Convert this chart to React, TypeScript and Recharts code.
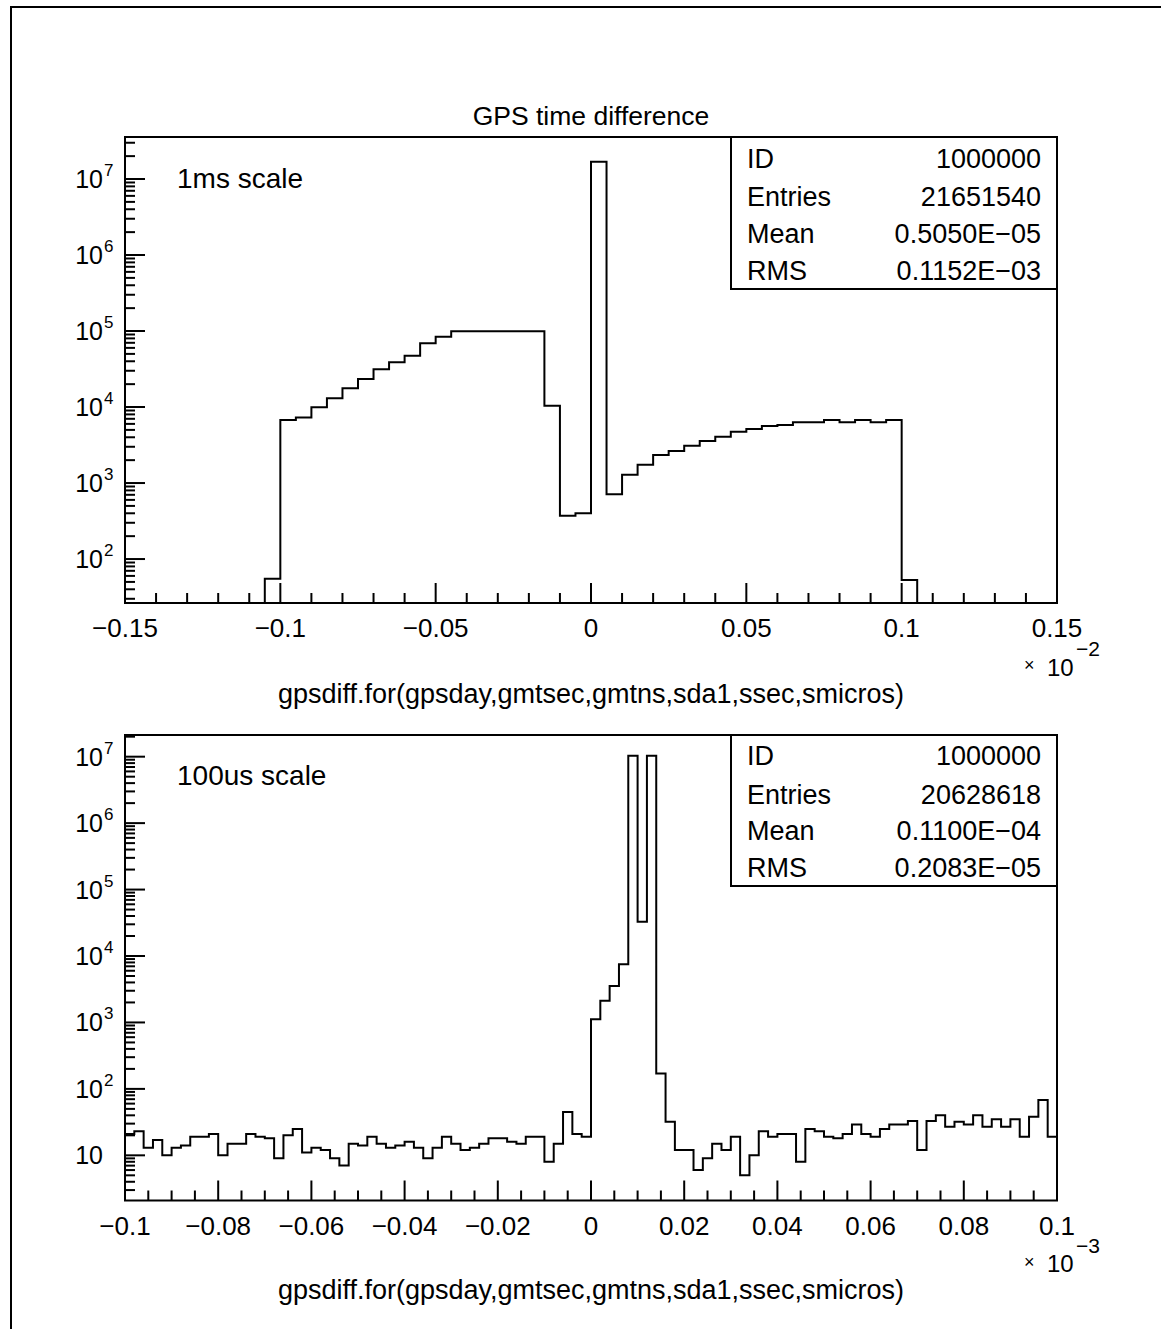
import React from "react";
import { LineChart, Line, XAxis, YAxis, ReferenceArea } from "recharts";

const FONT = "'Liberation Sans', Arimo, Arial, Helvetica, sans-serif";
const INK = "#000000";

// ---------- Top histogram: "1ms scale" (x in units of 1e-2) ----------
const topBinStart = -0.105;
const topBinWidth = 0.005;
const topCounts = [
  55,
  6740, 7300, 9900, 13000, 17600, 23300, 31300, 38700, 47300, 68900, 84100,
  99100, 99100, 99100, 99100, 99100, 99100,
  10400, 372, 399,
  16900000,
  710, 1285, 1740, 2330, 2640, 3100, 3570, 4070, 4730, 5140, 5630, 5800, 6290, 6290, 6750, 6290, 6750, 6290, 6750,
  53,
];
const topXDomain: [number, number] = [-0.15, 0.15];
const topYDomain: [number, number] = [26.4, 3.57e7];
const topXMajors = [-0.15, -0.1, -0.05, 0, 0.05, 0.1, 0.15];
const topXLabels = ["\u22120.15", "\u22120.1", "\u22120.05", "0", "0.05", "0.1", "0.15"];
const topXMinorStep = 0.01;
const topYDecades = [2, 3, 4, 5, 6, 7];
const topStats = [
  ["ID", "1000000"],
  ["Entries", "21651540"],
  ["Mean", "0.5050E\u221205"],
  ["RMS", "0.1152E\u221203"],
];

// ---------- Bottom histogram: "100us scale" (x in units of 1e-3) ----------
const botBinStart = -0.1;
const botBinWidth = 0.002;
const botCounts = [
  21, 23, 13, 17, 10, 13, 14, 19, 19, 21,
  10, 15, 15, 21, 19, 18, 9, 20, 25, 11,
  13, 12, 9, 7, 15, 14, 19, 15, 13, 14,
  16, 13, 9, 13, 19, 15, 12, 13, 15, 18,
  18, 16, 15, 19, 19, 8, 15, 45, 21, 19,
  1114, 2120, 3540, 7500, 10300000, 32900, 10300000, 171, 32, 12,
  12, 6, 9, 15, 12, 19, 5, 10, 23, 19,
  21, 21, 8, 25, 23, 19, 18, 21, 29, 21,
  19, 25, 29, 29, 33, 12, 33, 40, 27, 32,
  29, 40, 27, 35, 27, 35, 19, 38, 68, 19,
];
const botXDomain: [number, number] = [-0.1, 0.1];
const botYDomain: [number, number] = [2.09, 2.12e7];
const botXMajors = [-0.1, -0.08, -0.06, -0.04, -0.02, 0, 0.02, 0.04, 0.06, 0.08, 0.1];
const botXLabels = [
  "\u22120.1", "\u22120.08", "\u22120.06", "\u22120.04", "\u22120.02", "0",
  "0.02", "0.04", "0.06", "0.08", "0.1",
];
const botXMinorStep = 0.005;
const botYDecades = [1, 2, 3, 4, 5, 6, 7];
const botStats = [
  ["ID", "1000000"],
  ["Entries", "20628618"],
  ["Mean", "0.1100E\u221204"],
  ["RMS", "0.2083E\u221205"],
];

const axisTitle = "gpsdiff.for(gpsday,gmtsec,gmtns,sda1,ssec,smicros)";

// ---------- helpers ----------
function histPoints(start: number, width: number, counts: number[], floor: number) {
  const pts = [{ x: start, v: floor }];
  counts.forEach((c, i) => pts.push({ x: start + i * width, v: c }));
  const end = start + counts.length * width;
  pts.push({ x: end, v: counts[counts.length - 1] });
  pts.push({ x: end, v: floor });
  return pts;
}

function linearTicks(domain: [number, number], step: number) {
  const out: number[] = [];
  const n = Math.round((domain[1] - domain[0]) / step);
  for (let k = 0; k <= n; k++) out.push(domain[0] + k * step);
  return out;
}

function logTicks(domain: [number, number]) {
  const out: number[] = [];
  for (let d = -1; d <= 9; d++) {
    for (let m = 1; m <= 9; m++) {
      const v = m * Math.pow(10, d);
      if (v >= domain[0] * 0.999 && v <= domain[1] * 1.001) out.push(v);
    }
  }
  return out;
}

function XTick(props: any) {
  const { x, y, payload, majors, labels } = props;
  const idx = majors.findIndex((m: number) => Math.abs(m - payload.value) < 1e-9);
  const major = idx >= 0;
  return (
    <g>
      <line x1={x} y1={y} x2={x} y2={y - (major ? 20 : 10)} stroke={INK} strokeWidth={2} />
      {major && (
        <text x={x} y={y + 34} textAnchor="middle" fontFamily={FONT} fontSize={26} fill={INK}>
          {labels[idx]}
        </text>
      )}
    </g>
  );
}

function YTick(props: any) {
  const { x, y, payload, decades } = props;
  const lg = Math.log10(payload.value);
  const dec = decades.find((d: number) => Math.abs(d - lg) < 1e-6);
  const major = dec !== undefined;
  return (
    <g>
      <line x1={x} y1={y} x2={x + (major ? 20 : 10)} y2={y} stroke={INK} strokeWidth={2} />
      {major && (
        <text x={x - 22} y={y + 9} textAnchor="end" fontFamily={FONT} fontSize={25} fill={INK}>
          10
        </text>
      )}
      {major && dec !== 1 && (
        <text x={x - 21} y={y - 3} textAnchor="start" fontFamily={FONT} fontSize={17} fill={INK}>
          {String(dec)}
        </text>
      )}
    </g>
  );
}

type PanelProps = {
  top: number;
  height: number;
  marginTop: number;
  xAxisHeight: number;
  data: { x: number; v: number }[];
  xDomain: [number, number];
  xTicks: number[];
  xMajors: number[];
  xLabels: string[];
  yDomain: [number, number];
  yTicks: number[];
  yDecades: number[];
};

function Panel(p: PanelProps) {
  return (
    <div style={{ position: "absolute", left: 0, top: p.top }}>
      <LineChart
        width={1161}
        height={p.height}
        data={p.data}
        margin={{ top: p.marginTop, right: 104, bottom: 0, left: 0 }}
      >
        <XAxis
          dataKey="x"
          type="number"
          domain={p.xDomain}
          ticks={p.xTicks}
          interval={0}
          allowDataOverflow
          axisLine={false}
          tickLine={false}
          tickSize={0}
          tickMargin={0}
          height={p.xAxisHeight}
          tick={(tp: any) => <XTick {...tp} majors={p.xMajors} labels={p.xLabels} />}
        />
        <YAxis
          type="number"
          scale="log"
          domain={p.yDomain}
          ticks={p.yTicks}
          interval={0}
          allowDataOverflow
          axisLine={false}
          tickLine={false}
          tickSize={0}
          tickMargin={0}
          width={125}
          tick={(tp: any) => <YTick {...tp} decades={p.yDecades} />}
        />
        <ReferenceArea
          x1={p.xDomain[0]}
          x2={p.xDomain[1]}
          y1={p.yDomain[0]}
          y2={p.yDomain[1]}
          fill="none"
          fillOpacity={0}
          stroke={INK}
          strokeWidth={2}
          ifOverflow="visible"
        />
        <Line
          dataKey="v"
          type="stepAfter"
          stroke={INK}
          strokeWidth={2}
          dot={false}
          activeDot={false}
          isAnimationActive={false}
        />
      </LineChart>
    </div>
  );
}

function StatsBox({ top, bottom, rows, baselines }: { top: number; bottom: number; rows: string[][]; baselines: number[] }) {
  return (
    <g>
      <rect x={731} y={top} width={326} height={bottom - top} fill="#fff" stroke={INK} strokeWidth={2} />
      {rows.map((r, i) => (
        <g key={r[0]}>
          <text x={747} y={baselines[i]} fontFamily={FONT} fontSize={27} fill={INK}>
            {r[0]}
          </text>
          <text x={1041} y={baselines[i]} textAnchor="end" fontFamily={FONT} fontSize={27} fill={INK}>
            {r[1]}
          </text>
        </g>
      ))}
    </g>
  );
}

export default function App() {
  const topData = histPoints(topBinStart, topBinWidth, topCounts, topYDomain[0]);
  const botData = histPoints(botBinStart, botBinWidth, botCounts, botYDomain[0]);
  return (
    <div style={{ position: "absolute", left: 0, top: 0, width: 1161, height: 1329, background: "#fff", overflow: "hidden" }}>
      <Panel
        top={0}
        height={650}
        marginTop={137}
        xAxisHeight={47}
        data={topData}
        xDomain={topXDomain}
        xTicks={linearTicks(topXDomain, topXMinorStep)}
        xMajors={topXMajors}
        xLabels={topXLabels}
        yDomain={topYDomain}
        yTicks={logTicks(topYDomain)}
        yDecades={topYDecades}
      />
      <Panel
        top={650}
        height={679}
        marginTop={85}
        xAxisHeight={128.5}
        data={botData}
        xDomain={botXDomain}
        xTicks={linearTicks(botXDomain, botXMinorStep)}
        xMajors={botXMajors}
        xLabels={botXLabels}
        yDomain={botYDomain}
        yTicks={logTicks(botYDomain)}
        yDecades={botYDecades}
      />
      <svg
        width={1161}
        height={1329}
        style={{ position: "absolute", left: 0, top: 0, pointerEvents: "none" }}
      >
        {/* page frame */}
        <line x1={10} y1={7} x2={1161} y2={7} stroke={INK} strokeWidth={2} />
        <line x1={11} y1={6} x2={11} y2={1329} stroke={INK} strokeWidth={2} />

        {/* top panel annotations */}
        <text x={591} y={125} textAnchor="middle" fontFamily={FONT} fontSize={26.5} fill={INK}>
          GPS time difference
        </text>
        <text x={177} y={188} fontFamily={FONT} fontSize={28} fill={INK}>
          1ms scale
        </text>
        <StatsBox top={137} bottom={289} rows={topStats} baselines={[168, 206, 243, 280]} />
        <text x={1024} y={671} fontFamily={FONT} fontSize={18} fill={INK}>
          {"\u00d7"}
        </text>
        <text x={1047} y={676} fontFamily={FONT} fontSize={24} fill={INK}>
          10
        </text>
        <text x={1076} y={656} fontFamily={FONT} fontSize={21} fill={INK}>
          {"\u22122"}
        </text>
        <text x={591} y={703} textAnchor="middle" fontFamily={FONT} fontSize={27} fill={INK}>
          {axisTitle}
        </text>

        {/* bottom panel annotations */}
        <text x={177} y={785} fontFamily={FONT} fontSize={28} fill={INK}>
          100us scale
        </text>
        <StatsBox top={735} bottom={886} rows={botStats} baselines={[765, 804, 840, 877]} />
        <text x={1024} y={1268} fontFamily={FONT} fontSize={18} fill={INK}>
          {"\u00d7"}
        </text>
        <text x={1047} y={1272} fontFamily={FONT} fontSize={24} fill={INK}>
          10
        </text>
        <text x={1076} y={1253} fontFamily={FONT} fontSize={21} fill={INK}>
          {"\u22123"}
        </text>
        <text x={591} y={1299} textAnchor="middle" fontFamily={FONT} fontSize={27} fill={INK}>
          {axisTitle}
        </text>
      </svg>
    </div>
  );
}
